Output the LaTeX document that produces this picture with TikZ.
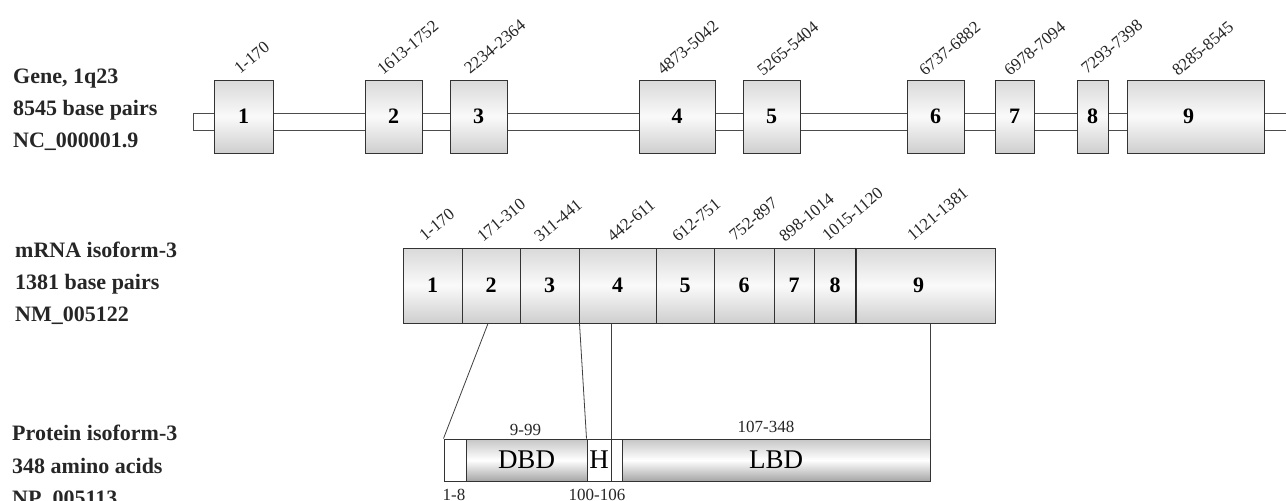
\documentclass[tikz,border=0pt]{standalone}
\usepackage{fontspec}
\setmainfont{Liberation Serif}
\usetikzlibrary{calc}
\tikzset{
  boxline/.style={draw=black!80, line width=1pt},
  exon/.style={boxline, rectangle, inner sep=0pt, top color=gray!30, bottom color=gray!38, middle color=white!96!gray,
    font=\fontsize{22}{22}\selectfont\bfseries},
  seg/.style={exon, minimum height=75pt},
  gexon/.style={exon, minimum height=73pt},
  dom/.style={boxline, rectangle, inner sep=0pt, minimum height=42pt, top color=gray!45, bottom color=gray!70, middle color=white,
    font=\fontsize{27}{27}\selectfont},
  wdom/.style={boxline, rectangle, inner sep=0pt, minimum height=42pt, fill=white, font=\fontsize{27}{27}\selectfont},
  rlab/.style={rotate=40, anchor=base west, inner sep=0pt, font=\fontsize{17}{17}\selectfont, text=black!85},
  plab/.style={anchor=base, inner sep=0pt, font=\fontsize{17}{17}\selectfont, text=black!85},
  side/.style={anchor=base west, inner sep=0pt, font=\fontsize{22}{22}\selectfont\bfseries, text=black!85},
  conn/.style={draw=black!75, line width=0.8pt}
}
\begin{document}
\begin{tikzpicture}[x=1pt,y=-1pt]
\useasboundingbox (0,0) rectangle (1286,501);
\clip (0,0) rectangle (1286,501);
\fill[white] (0,0) rectangle (1286,501);

% ---------- Gene row ----------
\node[side] (gA) at (13,83) {Gene, 1q23};
\node[side] (gB) at (13,115) {8545 base pairs};
\node[side] (gC) at (13,147) {NC\_000001.9};

\draw[draw=black!70, line width=1pt, fill=white] (193,113) rectangle (1295,130);

\node[gexon, minimum width=59pt] (g1) at (243.5,116.5) {1};
\node[gexon, minimum width=57pt] (g2) at (393.5,116.5) {2};
\node[gexon, minimum width=57pt] (g3) at (478.5,116.5) {3};
\node[gexon, minimum width=76pt] (g4) at (677,116.5) {4};
\node[gexon, minimum width=57pt] (g5) at (771.5,116.5) {5};
\node[gexon, minimum width=57pt] (g6) at (935.5,116.5) {6};
\node[gexon, minimum width=39pt] (g7) at (1014.5,116.5) {7};
\node[gexon, minimum width=31pt] (g8) at (1092.5,116.5) {8};
\node[gexon, minimum width=137pt] (g9) at (1195.5,116.5) {\hspace*{-14pt}9};

\node[rlab] (gl1) at (240,75) {1-170};
\node[rlab] (gl2) at (383,76) {1613-1752};
\node[rlab] (gl3) at (470,75) {2234-2364};
\node[rlab] (gl4) at (663,76) {4873-5042};
\node[rlab] (gl5) at (763,77) {5265-5404};
\node[rlab] (gl6) at (925,77) {6737-6882};
\node[rlab] (gl7) at (1010,77) {6978-7094};
\node[rlab] (gl8) at (1087,75) {7293-7398};
\node[rlab] (gl9) at (1178,77) {8285-8545};

% ---------- mRNA row ----------
\node[side] (mA) at (15,257) {mRNA isoform-3};
\node[side] (mB) at (15,289) {1381 base pairs};
\node[side] (mC) at (15,321) {NM\_005122};

\node[seg, minimum width=59pt] (m1) at (432.5,285.5) {1};
\node[seg, minimum width=58pt] (m2) at (491,285.5) {2};
\node[seg, minimum width=59pt] (m3) at (549.5,285.5) {3};
\node[seg, minimum width=77pt] (m4) at (617.5,285.5) {4};
\node[seg, minimum width=58pt] (m5) at (685,285.5) {5};
\node[seg, minimum width=60pt] (m6) at (744,285.5) {6};
\node[seg, minimum width=40pt] (m7) at (794,285.5) {7};
\node[seg, minimum width=42pt] (m8) at (835,285.5) {8};
\node[seg, minimum width=139pt] (m9) at (925.5,285.5) {\hspace*{-14pt}9};
\draw[black!85, line width=1.8pt] (m9.north west) -- (m9.south west);

\node[rlab] (ml1) at (425,242) {1-170};
\node[rlab] (ml2) at (483,243) {171-310};
\node[rlab] (ml3) at (540,243) {311-441};
\node[rlab] (ml4) at (613,243) {442-611};
\node[rlab] (ml5) at (678,243) {612-751};
\node[rlab] (ml6) at (735,242) {752-897};
\node[rlab] (ml7) at (785,243) {898-1014};
\node[rlab] (ml8) at (828,242) {1015-1120};
\node[rlab] (ml9) at (913,242) {1121-1381};

% ---------- Protein row ----------
\node[side] (pA) at (12,440) {Protein isoform-3};
\node[side] (pB) at (12,473) {348 amino acids};
\node[side] (pC) at (12,505) {NP\_005113};

\node[wdom, minimum width=22pt] (p0) at (455,460) {};
\node[dom, minimum width=121pt] (dbd) at (526.5,460) {DBD};
\node[wdom, minimum width=24pt] (ph) at (599,460) {H};
\node[wdom, minimum width=11pt] (pg) at (616.5,460) {};
\node[dom, minimum width=308pt] (lbd) at (776,460) {LBD};

\node[plab] (l99) at (525.5,435) {9-99};
\node[plab] (l348) at (766,432) {107-348};
\node[plab] (l8) at (454,500) {1-8};
\node[plab] (l106) at (597,500) {100-106};

% ---------- connectors ----------
\draw[conn] ([xshift=-3pt]m2.south) -- (p0.north west);
\draw[conn] (m3.south east) -- (ph.north west);
\draw[conn] (ph.north east) -- (ph.north east |- m4.south);
\draw[conn] (lbd.north east) -- (lbd.north east |- m9.south);
\end{tikzpicture}
\end{document}
